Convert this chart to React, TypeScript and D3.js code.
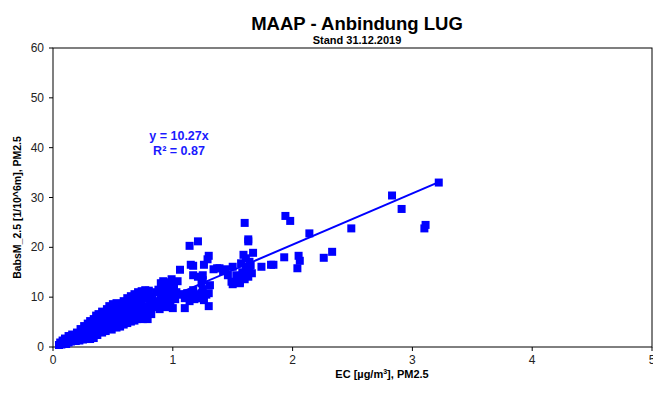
import React from "react";
import * as d3 from "d3";

const chartTitle = "MAAP - Anbindung LUG";
const chartSubtitle = "Stand 31.12.2019";
const xTicks = [0, 1, 2, 3, 4, 5];
const yTicks = [0, 10, 20, 30, 40, 50, 60];
const trendSlope = 10.27;
const trendLabel = "y = 10.27x";
const r2Label = "R² = 0.87";

// [EC, BabsM_2.5]
const clusterA: [number, number][] = [
  [0.05, 0.4], [0.06, 0.9], [0.07, 0.5], [0.08, 1.3], [0.09, 0.7], [0.1, 1.0], [0.1, 1.7], [0.11, 0.6],
  [0.12, 1.4], [0.13, 0.9], [0.13, 2.2], [0.14, 1.7], [0.15, 1.1], [0.16, 2.5], [0.17, 1.5], [0.18, 2.0],
  [0.19, 1.2], [0.2, 2.9], [0.21, 1.8], [0.22, 2.4], [0.22, 1.3], [0.23, 3.6], [0.24, 2.0], [0.25, 2.9],
  [0.25, 1.5], [0.26, 4.2], [0.27, 3.3], [0.27, 2.2], [0.28, 1.6], [0.29, 4.7], [0.29, 3.0], [0.3, 2.2],
  [0.3, 3.9],
];
const clusterB: [number, number][] = [
  [0.31, 1.6], [0.31, 5.2], [0.32, 2.8], [0.32, 4.2], [0.33, 3.4], [0.34, 1.8], [0.34, 5.6], [0.35, 2.6],
  [0.35, 4.6], [0.36, 3.6], [0.36, 6.3], [0.37, 2.4], [0.37, 5.2], [0.38, 4.0], [0.38, 6.6], [0.39, 3.0],
  [0.4, 4.8], [0.4, 6.0], [0.41, 2.9], [0.41, 7.1], [0.42, 3.9], [0.42, 5.5], [0.43, 4.6], [0.44, 3.2],
  [0.44, 6.6], [0.45, 7.6], [0.45, 5.0], [0.46, 3.8], [0.47, 6.0], [0.47, 8.2], [0.48, 4.4], [0.48, 7.0],
  [0.49, 3.5], [0.49, 5.4], [0.5, 8.6], [0.5, 6.5], [0.51, 4.2], [0.52, 7.6], [0.52, 5.6], [0.53, 3.9],
  [0.53, 8.8], [0.54, 6.4], [0.54, 4.8], [0.55, 7.2], [0.55, 5.5],
];
const clusterC: [number, number][] = [
  [0.56, 4.1], [0.56, 8.4], [0.57, 6.2], [0.58, 7.6], [0.58, 5.0], [0.59, 9.2], [0.59, 4.5], [0.6, 6.8],
  [0.61, 8.2], [0.61, 5.6], [0.62, 9.8], [0.62, 4.8], [0.63, 7.2], [0.64, 6.0], [0.64, 8.8], [0.65, 10.2],
  [0.65, 5.1], [0.66, 7.8], [0.67, 6.4], [0.67, 9.4], [0.68, 10.6], [0.68, 5.3], [0.69, 8.4], [0.7, 6.9],
  [0.7, 5.6], [0.71, 11.0], [0.71, 9.4], [0.72, 7.4], [0.73, 6.0], [0.73, 10.2], [0.74, 11.2], [0.74, 8.6],
  [0.75, 5.6], [0.75, 7.0], [0.76, 9.8], [0.77, 11.4], [0.77, 6.2], [0.78, 8.2], [0.79, 10.6], [0.79, 5.6],
  [0.8, 11.3], [0.8, 7.4], [0.81, 9.2], [0.82, 6.6], [0.83, 10.0], [0.84, 8.0], [0.85, 9.2], [0.86, 11.0],
];
const clusterD: [number, number][] = [
  [0.88, 9.0], [0.88, 11.5], [0.89, 7.6], [0.9, 10.2], [0.9, 12.8], [0.92, 8.4], [0.92, 11.0], [0.92, 13.2],
  [0.94, 9.5], [0.94, 12.0], [0.95, 8.0], [0.96, 10.6], [0.96, 13.0], [0.98, 9.0], [0.98, 11.5], [0.99, 13.6],
  [1.0, 7.8], [1.0, 10.2], [1.01, 12.4], [1.02, 9.6], [1.03, 11.0], [1.04, 13.2], [1.05, 10.5], [1.06, 15.5],
];
const clusterE: [number, number][] = [
  [1.08, 10.6], [1.1, 7.8], [1.1, 9.8], [1.12, 10.8], [1.14, 9.2], [1.15, 10.4], [1.17, 11.4], [1.18, 9.6],
  [1.2, 10.6], [1.22, 9.8], [1.24, 10.8], [1.25, 11.6], [1.26, 9.4], [1.28, 10.5], [1.3, 8.2], [1.3, 10.8],
  [1.31, 12.4], [1.24, 12.8], [1.25, 13.4], [1.17, 14.4], [1.21, 14.1], [1.25, 14.4], [1.17, 16.3],
  [1.15, 16.5], [1.26, 16.5], [1.29, 17.6], [1.3, 18.3], [1.14, 20.3], [1.21, 21.2], [1.225, 9.8],
];
const clusterF: [number, number][] = [
  [1.34, 15.6], [1.37, 15.8], [1.39, 15.8], [1.42, 15.2], [1.44, 15.6], [1.46, 14.4], [1.49, 13.1],
  [1.5, 12.6], [1.5, 16.1], [1.53, 14.4], [1.54, 13.4], [1.56, 12.8], [1.56, 13.1], [1.59, 14.1],
  [1.59, 18.5], [1.6, 24.9], [1.61, 16.1], [1.63, 21.6], [1.63, 21.2], [1.64, 17.1], [1.64, 15.1],
  [1.63, 14.1], [1.67, 18.9], [1.62, 15.5], [1.58, 15.0], [1.6, 13.6], [1.65, 16.4], [1.57, 16.8],
  [1.61, 17.8], [1.66, 14.8],
];
const outliers: [number, number][] = [
  [1.74, 16.1], [1.82, 16.5], [1.84, 16.5], [1.93, 18.0], [1.94, 26.3], [1.98, 25.3], [2.04, 15.8],
  [2.05, 18.3], [2.06, 17.3], [2.14, 22.8], [2.26, 17.9], [2.33, 19.1], [2.49, 23.8], [2.83, 30.4],
  [2.91, 27.7], [3.1, 23.8], [3.11, 24.5], [3.22, 33.0],
];

const FONT = "'Liberation Sans', Arial, Helvetica, sans-serif";
const BLUE = "#0000ff";

export default function App() {
  const x = d3.scaleLinear().domain([0, 5]).range([53, 652]);
  const y = d3.scaleLinear().domain([0, 60]).range([347, 48]);
  const points = [...clusterA, ...clusterB, ...clusterC, ...clusterD, ...clusterE, ...clusterF, ...outliers];
  const [xMin, xMax] = d3.extent(points, (d) => d[0]) as [number, number];
  const trend = d3
    .line<number>()
    .x((v) => x(v))
    .y((v) => y(v * trendSlope))([xMin, xMax]);
  const ms = 8;
  const [x0, x1] = x.range();
  const [y0, y1] = y.range();

  return (
    <svg
      width={653}
      height={401}
      style={{ position: "absolute", left: 0, top: 0, background: "#fff" }}
      fontFamily={FONT}
    >
      <rect x={0} y={0} width={653} height={401} fill="#fff" />
      <text x={357} y={30} textAnchor="middle" fontSize={18.5} fontWeight="bold" fill="#000">
        {chartTitle}
      </text>
      <text x={357} y={43.5} textAnchor="middle" fontSize={11} fontWeight="bold" fill="#000">
        {chartSubtitle}
      </text>

      {/* plot frame */}
      <rect x={x0} y={y1} width={x1 - x0} height={y0 - y1} fill="none" stroke="#000" strokeWidth={1} />

      {/* y axis ticks */}
      {yTicks.map((t) => (
        <g key={"y" + t}>
          <line x1={x0 - 4} x2={x0} y1={y(t)} y2={y(t)} stroke="#000" />
          <text x={x0 - 9} y={y(t) + 4} textAnchor="end" fontSize={12} fill="#222">
            {t}
          </text>
        </g>
      ))}
      {/* x axis ticks */}
      {xTicks.map((t) => (
        <g key={"x" + t}>
          <line x1={x(t)} x2={x(t)} y1={y0} y2={y0 + 4} stroke="#000" />
          <text x={x(t)} y={y0 + 17} textAnchor="middle" fontSize={12} fill="#222">
            {t}
          </text>
        </g>
      ))}

      {/* points */}
      {points.map((d, i) => (
        <rect
          key={i}
          x={x(d[0]) - ms / 2}
          y={y(d[1]) - ms / 2}
          width={ms}
          height={ms}
          fill={BLUE}
        />
      ))}

      {/* trend line */}
      <path d={trend || ""} fill="none" stroke={BLUE} strokeWidth={2} />

      <text x={179} y={140} textAnchor="middle" fontSize={12.5} fontWeight="bold" fill="#1a1aff">
        {trendLabel}
      </text>
      <text x={179} y={155} textAnchor="middle" fontSize={12.5} fontWeight="bold" fill="#1a1aff">
        {r2Label}
      </text>

      <text
        transform={`translate(21,${(y0 + y1) / 2 + 10}) rotate(-90)`}
        textAnchor="middle"
        fontSize={10.5}
        fontWeight="bold"
        fill="#000"
      >
        BabsM_2.5 [1/10^6m], PM2.5
      </text>
      <text x={382} y={378} textAnchor="middle" fontSize={11} fontWeight="bold" fill="#000">
        EC [µg/m<tspan dy={-4} fontSize={7}>3</tspan>
        <tspan dy={4}>], PM2.5</tspan>
      </text>
    </svg>
  );
}
